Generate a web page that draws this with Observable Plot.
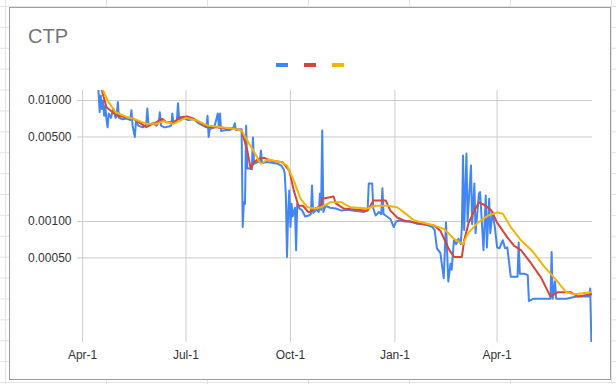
<!DOCTYPE html>
<html>
<head>
<meta charset="utf-8">
<script src="https://cdn.jsdelivr.net/npm/d3@7"></script>
<script src="https://cdn.jsdelivr.net/npm/@observablehq/plot@0.6"></script>
<style>
  html, body { margin: 0; padding: 0; }
  body {
    width: 616px; height: 384px; position: relative; overflow: hidden;
    background-color: #fff;
    background-image:
      linear-gradient(to right, #e3e3e3 1px, transparent 1px),
      linear-gradient(to bottom, #e3e3e3 1px, transparent 1px);
    background-size: 101px 100%, 100% 20.9px;
    background-position: 5px 0, 0 6px;
    font-family: "Liberation Sans", Arial, sans-serif;
  }
  #box {
    position: absolute; left: 9px; top: 7px; width: 602px; height: 373px;
    box-sizing: border-box; border: 1px solid #9e9e9e; background: #fff;
  }
  #title {
    position: absolute; left: 28px; top: 26px; font-size: 20px; line-height: 20px;
    color: #757575;
  }
  .sw { position: absolute; top: 63px; width: 12px; height: 4px; }
  #chart { position: absolute; left: 10px; top: 72px; }
</style>
</head>
<body>
<div id="box"></div>
<div id="title">CTP</div>
<div id="legend"></div>
<div id="chart"></div>
<script>
// ---- data ----
const blueDates = [
"2021-04-14","2021-04-15","2021-04-16","2021-04-17","2021-04-18","2021-04-19","2021-04-20","2021-04-21","2021-04-22","2021-04-23",
"2021-04-24","2021-04-26","2021-04-28","2021-04-30","2021-05-01","2021-05-02","2021-05-03","2021-05-06","2021-05-10","2021-05-13",
"2021-05-14","2021-05-15","2021-05-17","2021-05-18","2021-05-20","2021-05-24","2021-05-27","2021-05-28","2021-05-29","2021-06-02",
"2021-06-05","2021-06-07","2021-06-08","2021-06-09","2021-06-12","2021-06-16","2021-06-18","2021-06-19","2021-06-20","2021-06-23",
"2021-06-24","2021-06-25","2021-06-29","2021-07-03","2021-07-08","2021-07-12","2021-07-16","2021-07-19","2021-07-20","2021-07-21",
"2021-07-22","2021-07-26","2021-07-29","2021-07-30","2021-07-31","2021-08-01","2021-08-05","2021-08-09","2021-08-12","2021-08-13",
"2021-08-14","2021-08-18","2021-08-19","2021-08-20","2021-08-21","2021-08-22","2021-08-23","2021-08-24","2021-08-26","2021-08-28",
"2021-08-29","2021-08-30","2021-09-02","2021-09-04","2021-09-05","2021-09-06","2021-09-10","2021-09-16","2021-09-20","2021-09-23",
"2021-09-25","2021-09-26","2021-09-27","2021-09-28","2021-09-29","2021-09-30","2021-10-01","2021-10-02","2021-10-03","2021-10-05",
"2021-10-06","2021-10-07","2021-10-09","2021-10-11","2021-10-14","2021-10-17","2021-10-19","2021-10-20","2021-10-21","2021-10-24",
"2021-10-26","2021-10-27","2021-10-28","2021-10-29","2021-10-30","2021-11-01","2021-11-05","2021-11-10","2021-11-15","2021-11-20",
"2021-11-28","2021-12-05","2021-12-08","2021-12-09","2021-12-12","2021-12-13","2021-12-15","2021-12-18","2021-12-20","2021-12-21",
"2021-12-22","2021-12-25","2021-12-28","2021-12-31","2022-01-02","2022-01-05","2022-01-10","2022-01-15","2022-01-20","2022-01-25",
"2022-01-30","2022-02-03","2022-02-05","2022-02-07","2022-02-10","2022-02-13","2022-02-15","2022-02-17","2022-02-19","2022-02-20",
"2022-02-22","2022-02-24","2022-02-26","2022-02-28","2022-03-01","2022-03-02","2022-03-03","2022-03-05","2022-03-06","2022-03-09",
"2022-03-10","2022-03-12","2022-03-13","2022-03-16","2022-03-17","2022-03-20","2022-03-22","2022-03-23","2022-03-25","2022-03-26",
"2022-03-28","2022-03-30","2022-04-01","2022-04-03","2022-04-06","2022-04-08","2022-04-10","2022-04-13","2022-04-16","2022-04-19",
"2022-04-20","2022-04-21","2022-04-25","2022-04-28","2022-04-29","2022-05-03","2022-05-10","2022-05-18","2022-05-19","2022-05-20",
"2022-05-22","2022-05-23","2022-06-01","2022-06-10","2022-06-21","2022-06-22","2022-06-23"
];
const blueValues = [
0.0140,0.0121,0.0080,0.0110,0.0085,0.0100,0.0075,0.0090,0.0070,0.0060,
0.0078,0.0072,0.0086,0.0072,0.0074,0.0097,0.0072,0.0070,0.0071,0.0069,
0.0083,0.0062,0.0050,0.0068,0.0062,0.0060,0.0063,0.0086,0.0063,0.0065,
0.0062,0.0066,0.0080,0.0062,0.0060,0.0061,0.0062,0.0078,0.0065,0.0068,
0.0095,0.0070,0.0072,0.0069,0.0070,0.0065,0.0062,0.0060,0.0075,0.0050,
0.0058,0.0060,0.0078,0.0060,0.0078,0.0056,0.0057,0.0057,0.0060,0.0065,
0.0057,0.0058,0.0058,0.00090,0.00144,0.00140,0.0062,0.00274,0.00274,0.00270,
0.00495,0.00300,0.00310,0.00310,0.00386,0.00305,0.00310,0.00305,0.00300,0.00290,
0.00270,0.00250,0.00160,0.00051,0.00120,0.00180,0.00090,0.00140,0.00110,0.00130,
0.00058,0.00140,0.00128,0.00125,0.00110,0.00112,0.00115,0.00198,0.00118,0.00125,
0.00120,0.00170,0.00125,0.00565,0.00120,0.00135,0.00130,0.00128,0.00123,0.00125,
0.00122,0.00120,0.00125,0.00206,0.00206,0.00128,0.00112,0.00120,0.00115,0.00188,
0.00115,0.00110,0.00105,0.00090,0.00100,0.00102,0.00100,0.00100,0.00096,0.00095,
0.00093,0.00090,0.00085,0.00060,0.00055,0.00034,0.00098,0.00032,0.00045,0.00040,
0.00070,0.00065,0.00072,0.00065,0.00090,0.00351,0.00085,0.00365,0.00100,0.00290,
0.00095,0.00206,0.00080,0.00170,0.00175,0.00058,0.00164,0.00061,0.00154,0.00080,
0.00120,0.00090,0.00061,0.00060,0.00070,0.00060,0.00061,0.00035,0.00035,0.00035,
0.00067,0.00037,0.00037,0.00036,0.00022,0.00023,0.00023,0.00023,0.00056,0.00023,
0.00032,0.00023,0.00023,0.00024,0.00024,0.00028,0.000101
];
const redDates = [
"2021-04-16","2021-04-18","2021-04-22","2021-05-01","2021-05-16","2021-05-27","2021-06-05","2021-06-10","2021-06-14","2021-06-20",
"2021-06-26","2021-07-02","2021-07-08","2021-07-20","2021-07-27","2021-08-12","2021-08-19","2021-08-24","2021-08-27","2021-08-30",
"2021-09-03","2021-09-08","2021-09-14","2021-09-24","2021-09-30","2021-10-04","2021-10-08","2021-10-12","2021-10-17","2021-10-23",
"2021-10-28","2021-10-29","2021-11-08","2021-11-10","2021-11-17","2021-12-08","2021-12-13","2021-12-24","2021-12-28","2022-01-03",
"2022-01-09","2022-01-24","2022-02-04","2022-02-10","2022-02-18","2022-02-22","2022-03-01","2022-03-03","2022-03-07","2022-03-12",
"2022-03-16","2022-03-22","2022-03-27","2022-04-01","2022-04-10","2022-04-16","2022-04-22","2022-05-01","2022-05-10","2022-05-17",
"2022-05-18","2022-05-24","2022-06-05","2022-06-11","2022-06-23"
];
const redValues = [
0.0130,0.0121,0.00880,0.00752,0.00706,0.00602,0.00662,0.00706,0.00662,0.00662,
0.00728,0.00737,0.00706,0.00602,0.00602,0.00584,0.00565,0.00386,0.00273,0.00309,
0.00330,0.00336,0.00319,0.00309,0.00264,0.00180,0.00135,0.00135,0.00119,0.00128,
0.00135,0.00154,0.00161,0.00141,0.00128,0.00123,0.00149,0.00149,0.00123,0.00108,
0.00102,0.00096,0.00093,0.00084,0.00058,0.00051,0.00051,0.00070,0.00098,0.00123,
0.00144,0.00135,0.00123,0.00098,0.00074,0.00063,0.00058,0.00045,0.00034,0.00025,
0.00024,0.00026,0.00026,0.00024,0.00025
];
const yellowDates = [
"2021-04-17","2021-04-19","2021-04-23","2021-04-30","2021-05-10","2021-05-16","2021-05-27","2021-06-05","2021-06-11","2021-06-20",
"2021-07-01","2021-07-11","2021-07-20","2021-08-12","2021-08-19","2021-08-24","2021-08-31","2021-09-03","2021-09-05","2021-09-11",
"2021-09-23","2021-09-28","2021-10-04","2021-10-10","2021-10-16","2021-10-22","2021-10-28","2021-11-05","2021-11-15","2021-11-23",
"2021-12-08","2021-12-15","2021-12-25","2022-01-03","2022-01-09","2022-01-18","2022-02-04","2022-02-13","2022-02-22","2022-03-02",
"2022-03-06","2022-03-15","2022-03-24","2022-04-01","2022-04-06","2022-04-13","2022-04-22","2022-05-02","2022-05-12","2022-05-24",
"2022-06-01","2022-06-08","2022-06-23"
];
const yellowValues = [
0.0135,0.0121,0.0100,0.00800,0.00728,0.00706,0.00642,0.00642,0.00675,0.00642,
0.00719,0.00683,0.00621,0.00584,0.00565,0.00467,0.00363,0.00319,0.00300,0.00326,
0.00309,0.00290,0.00218,0.00154,0.00131,0.00128,0.00131,0.00144,0.00144,0.00131,
0.00128,0.00135,0.00135,0.00131,0.00119,0.00102,0.00093,0.00087,0.00072,0.00065,
0.00079,0.00098,0.00112,0.00119,0.00116,0.00090,0.00070,0.00057,0.00043,0.00032,
0.00026,0.00025,0.00026
];
const xTickLabels = ["2021-04-01","2021-07-01","2021-10-01","2022-01-01","2022-04-01"];
const yTickValues = [0.01, 0.005, 0.001, 0.0005];
const seriesColors = ["#4285F4", "#DB4437", "#F4B400"];

// ---- build ----
const parse = d3.utcParse("%Y-%m-%d");
const toRows = (ds, vs) => ds.map((d, i) => ({date: parse(d), value: vs[i]}));
const blue = toRows(blueDates, blueValues);
const red = toRows(redDates, redValues);
const yellow = toRows(yellowDates, yellowValues);
const xTicks = xTickLabels.map(parse);

const legend = document.getElementById("legend");
seriesColors.forEach((c, i) => {
  const s = document.createElement("div");
  s.className = "sw";
  s.style.left = (276 + 28 * i) + "px";
  s.style.background = c;
  legend.appendChild(s);
});

const fmtX = d3.utcFormat("%b-%-d");
const fmtY = d3.format(".5f");
const lineOpts = {x: "date", y: "value", strokeWidth: 2, strokeLinejoin: "round", strokeLinecap: "round", clip: true};

const chart = Plot.plot({
  width: 600,
  height: 300,
  marginLeft: 67,
  marginRight: 18,
  marginTop: 18,
  marginBottom: 30,
  style: {fontFamily: "'Liberation Sans', Arial, sans-serif", fontSize: "12px", color: "#333", background: "transparent"},
  x: {type: "utc", domain: [new Date(Date.UTC(2021, 2, 27, 12)), new Date(Date.UTC(2022, 5, 24, 0))]},
  y: {type: "log", domain: [0.0001, 0.0121], axis: null},
  marks: [
    Plot.gridX(xTicks, {stroke: "#cccccc", strokeOpacity: 1}),
    Plot.gridY(yTickValues, {stroke: "#cccccc", strokeOpacity: 1}),
    Plot.axisX(xTicks, {tickSize: 0, tickPadding: 8, tickFormat: fmtX, label: null, fill: "#333"}),
    Plot.text(yTickValues, {y: d => d, text: d => fmtY(d), frameAnchor: "left", textAnchor: "end", dx: -6, fill: "#333", fontSize: 12}),
    Plot.line(blue, {...lineOpts, stroke: seriesColors[0]}),
    Plot.line(red, {...lineOpts, stroke: seriesColors[1]}),
    Plot.line(yellow, {...lineOpts, stroke: seriesColors[2]})
  ]
});
document.getElementById("chart").appendChild(chart);
</script>
</body>
</html>
